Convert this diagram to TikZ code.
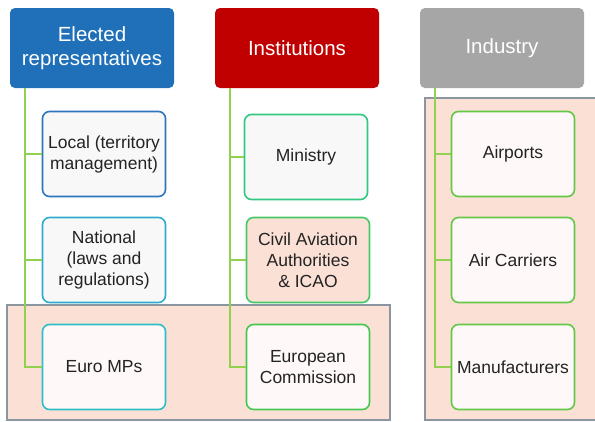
\documentclass[tikz,border=0pt]{standalone}
\usepackage{fontspec}
\setmainfont{Liberation Sans}
\definecolor{elecblue}{RGB}{31,112,184}
\definecolor{instred}{RGB}{192,0,0}
\definecolor{indgray}{RGB}{166,166,166}
\definecolor{linegreen}{RGB}{146,208,80}
\definecolor{bandpink}{RGB}{251,224,214}
\definecolor{bandgray}{RGB}{140,150,160}
\definecolor{boxwhite}{RGB}{248,248,248}
\definecolor{boxpinkw}{RGB}{254,249,248}
\definecolor{txtdark}{RGB}{35,35,35}
\definecolor{bLocal}{RGB}{46,117,190}
\definecolor{bNatl}{RGB}{49,170,208}
\definecolor{bEuro}{RGB}{45,190,200}
\definecolor{bMini}{RGB}{50,200,130}
\definecolor{bCaa}{RGB}{70,200,100}
\definecolor{bComm}{RGB}{70,200,80}
\definecolor{bInd}{RGB}{100,200,70}
\begin{document}
\begin{tikzpicture}[x=1pt,y=-1pt,
  head/.style={rounded corners=5pt,minimum width=164pt,minimum height=80pt,inner sep=0pt,
    text=white,align=center,font=\fontsize{20.5}{24}\selectfont},
  item/.style={draw=#1,fill=boxwhite,line width=1.6pt,rounded corners=7pt,minimum width=123pt,
    minimum height=85pt,inner sep=0pt,align=center,text=txtdark,font=\fontsize{17.5}{21}\selectfont},
  conn/.style={draw=linegreen,line width=1.5pt},
  band/.style={fill=bandpink,draw=bandgray,line width=1.5pt}]
\useasboundingbox (0,0) rectangle (595,421);
\draw[band] (7,305) rectangle (390,420);
\draw[band] (425,98) rectangle (600,420);
% column heads
\node[head,fill=elecblue] (elec) at (92,48) {Elected\\representatives};
\node[head,fill=instred] (inst) at (297,48) {Institutions};
\node[head,fill=indgray] (ind) at (502,48) {Industry};
% elected representatives
\node[item=bLocal] (local) at (104,154) {Local (territory\\management)};
\node[item=bNatl] (natl) at (104,260) {National\\(laws and\\regulations)};
\node[item=bEuro,fill=boxpinkw] (euro) at (104,367) {Euro MPs};
% institutions
\node[item=bMini] (mini) at (306,157) {Ministry};
\node[item=bCaa,fill=bandpink] (caa) at (308,260) {Civil Aviation\\Authorities\\\& ICAO};
\node[item=bComm,fill=boxpinkw] (comm) at (308,367) {European\\Commission};
% industry
\node[item=bInd,fill=boxpinkw] (airp) at (513,154) {Airports};
\node[item=bInd,fill=boxpinkw] (carr) at (513,260) {Air Carriers};
\node[item=bInd,fill=boxpinkw] (manu) at (513,367) {Manufacturers};
\foreach \h/\a/\b/\c in {elec/local/natl/euro,inst/mini/caa/comm,ind/airp/carr/manu}{
  \coordinate (\h t) at ([xshift=15pt]\h.south west);
  \draw[conn] (\h t) |- (\c.west) (\a.west) -- (\a.west -| \h t) (\b.west) -- (\b.west -| \h t);}
\end{tikzpicture}
\end{document}
